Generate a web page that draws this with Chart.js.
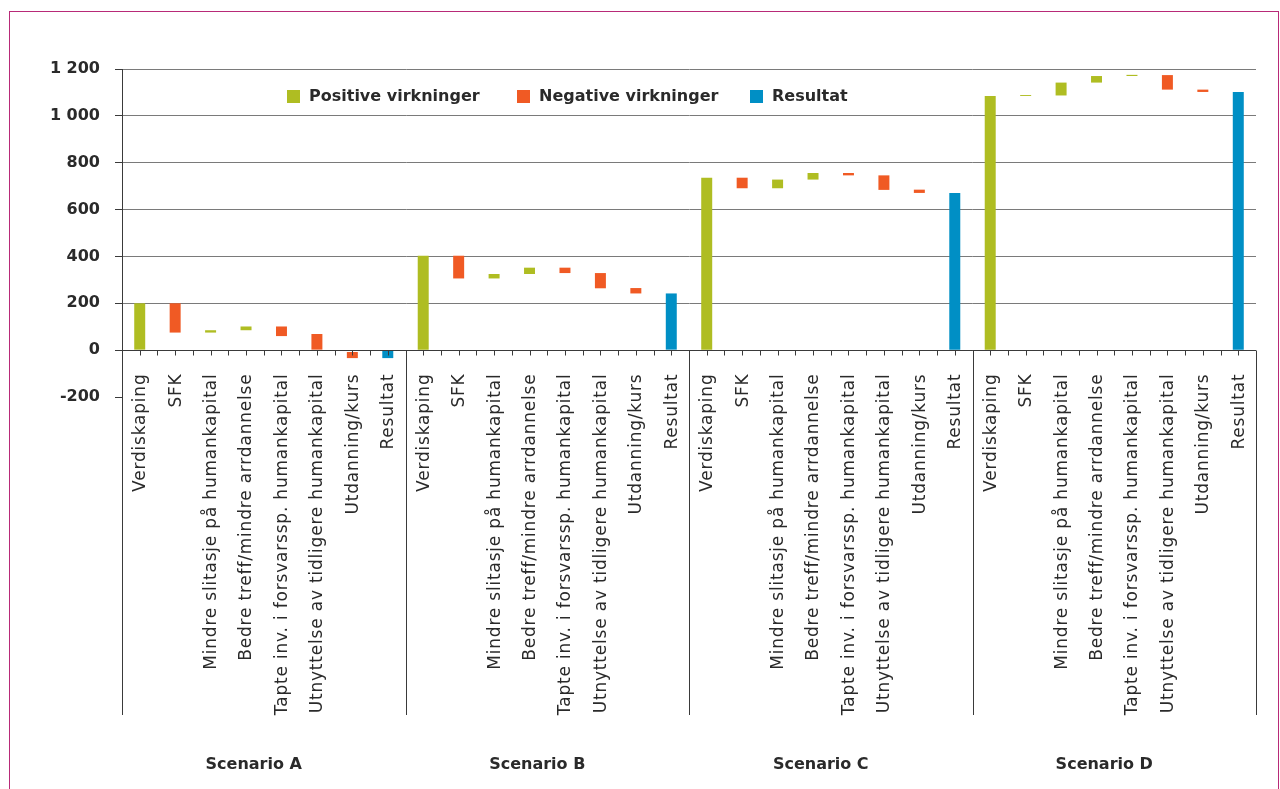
<!DOCTYPE html>
<html>
<head>
<meta charset="utf-8">
<script src="https://cdn.jsdelivr.net/npm/chart.js@4/dist/chart.umd.min.js"></script>
<style>
  html, body { margin: 0; padding: 0; background: #ffffff; }
  #wrap { position: relative; width: 1280px; height: 789px; overflow: hidden; }
  #frame { position: absolute; left: 9px; top: 11px; width: 1268px; height: 800px; z-index: 2;
           border-left: 1px solid #b82a78; border-top: 1px solid #b82a78; border-right: 1px solid #b82a78; }
  canvas { position: absolute; left: 0; top: 0; z-index: 1; }
</style>
</head>
<body>
<div id="wrap">
  <canvas id="chart" width="1280" height="789"></canvas>
  <div id="frame"></div>
</div>
<script>
// Scenario groups along the category axis
const scenarioNames = ['Scenario A', 'Scenario B', 'Scenario C', 'Scenario D'];

// Effects shown inside every scenario
const effectNames = [
  'Verdiskaping',
  'SFK',
  'Mindre slitasje på humankapital',
  'Bedre treff/mindre arrdannelse',
  'Tapte inv. i forsvarssp. humankapital',
  'Utnyttelse av tidligere humankapital',
  'Utdanning/kurs',
  'Resultat'
];

// [from, to] level of each waterfall step; last entry is the result bar
const scenarioA = [[0, 200], [200, 75], [75, 85], [85, 101], [101, 60], [69, 0], [-8, -34], [0, -34]];
const scenarioB = [[0, 403], [403, 306], [306, 325], [325, 352], [352, 329], [329, 264], [265, 242], [0, 242]];
const scenarioC = [[0, 736], [736, 691], [691, 728], [728, 756], [756, 746], [746, 684], [685, 671], [0, 671]];
const scenarioD = [[0, 1085], [1085, 1089], [1087, 1142], [1142, 1170], [1170, 1175], [1174, 1112], [1112, 1102], [0, 1102]];

// Value axis
const yTickValues = [-200, 0, 200, 400, 600, 800, 1000, 1200];
const yTickLabels = ['-200', '0', '200', '400', '600', '800', '1 000', '1 200'];

const legendLabels = ['Positive virkninger', 'Negative virkninger', 'Resultat'];
const colors = { positive: '#afbd22', negative: '#f05a24', result: '#008fc5' };

const allSteps = [scenarioA, scenarioB, scenarioC, scenarioD].flat();
const labels = scenarioNames.flatMap(() => effectNames);
const nEff = effectNames.length;

const positiveData = allSteps.map((s, i) => (i % nEff !== nEff - 1 && s[1] >= s[0]) ? s : null);
const negativeData = allSteps.map((s, i) => (i % nEff !== nEff - 1 && s[1] < s[0]) ? s : null);
const resultData = allSteps.map((s, i) => (i % nEff === nEff - 1) ? s : null);

const textColor = '#2a2a2a';
const lineColor = '#3a3a3a';

// Draws the two-level category axis, the frame lines below the plot and the inline legend
const categoryAxis = {
  id: 'categoryAxis',
  afterDatasetsDraw(chart) {
    const { ctx, scales: { x, y }, chartArea } = chart;
    const y0 = Math.round(y.getPixelForValue(0)) + 0.5;
    const step = x.getPixelForValue(1) - x.getPixelForValue(0);
    const half = step / 2;
    const bottomLine = 715;

    ctx.save();
    ctx.strokeStyle = lineColor;
    ctx.lineWidth = 1;

    // axis line at zero
    ctx.beginPath();
    ctx.moveTo(chartArea.left, y0);
    ctx.lineTo(chartArea.right, y0);
    ctx.stroke();

    // small ticks at every half category
    ctx.beginPath();
    for (let i = 0; i < labels.length; i++) {
      const c = x.getPixelForValue(i);
      for (const px of [c - half, c]) {
        const xx = Math.round(px) + 0.5;
        ctx.moveTo(xx, y0);
        ctx.lineTo(xx, y0 + 5);
      }
    }
    ctx.stroke();

    // left axis extension and scenario separators
    ctx.beginPath();
    const lx = Math.round(chartArea.left) + 0.5;
    ctx.moveTo(lx, chartArea.bottom);
    ctx.lineTo(lx, bottomLine);
    for (let g = 1; g <= scenarioNames.length; g++) {
      const bx = Math.round(x.getPixelForValue(g * nEff - 1) + half) + 0.5;
      ctx.moveTo(bx, y0);
      ctx.lineTo(bx, bottomLine);
    }
    ctx.stroke();

    // rotated effect labels
    ctx.fillStyle = textColor;
    ctx.font = '17px "DejaVu Sans"';
    ctx.letterSpacing = '0.8px';
    ctx.textAlign = 'right';
    ctx.textBaseline = 'middle';
    labels.forEach((lab, i) => {
      ctx.save();
      ctx.translate(x.getPixelForValue(i) + 1, y0 + 23);
      ctx.rotate(-Math.PI / 2);
      ctx.fillText(lab, 0, 0);
      ctx.restore();
    });
    ctx.letterSpacing = '0px';

    // scenario labels
    ctx.font = 'bold 16px "DejaVu Sans"';
    ctx.textAlign = 'center';
    scenarioNames.forEach((name, g) => {
      const cx = (x.getPixelForValue(g * nEff) + x.getPixelForValue(g * nEff + nEff - 1)) / 2;
      ctx.fillText(name, cx - 10, 765);
    });

    // legend inside the plot
    const legendX = [287, 517, 750];
    const legendColors = [colors.positive, colors.negative, colors.result];
    ctx.font = 'bold 16px "DejaVu Sans"';
    ctx.textAlign = 'left';
    legendLabels.forEach((t, k) => {
      ctx.fillStyle = legendColors[k];
      ctx.fillRect(legendX[k], 90, 13, 13);
      ctx.fillStyle = textColor;
      ctx.fillText(t, legendX[k] + 22, 97);
    });
    ctx.restore();
  }
};

new Chart(document.getElementById('chart'), {
  type: 'bar',
  data: {
    labels: labels,
    datasets: [
      { label: legendLabels[0], data: positiveData, backgroundColor: colors.positive },
      { label: legendLabels[1], data: negativeData, backgroundColor: colors.negative },
      { label: legendLabels[2], data: resultData, backgroundColor: colors.result }
    ]
  },
  options: {
    responsive: false,
    animation: false,
    devicePixelRatio: 1,
    layout: { padding: { top: 69, bottom: 392, left: 0, right: 24 } },
    datasets: { bar: { grouped: false, barPercentage: 0.31, categoryPercentage: 1, borderWidth: 0, skipNull: true } },
    plugins: { legend: { display: false }, tooltip: { enabled: false } },
    scales: {
      x: { display: false, offset: true },
      y: {
        min: -200,
        max: 1200,
        afterFit(scale) { scale.width = 122; },
        afterBuildTicks(scale) { scale.ticks = yTickValues.map(v => ({ value: v })); },
        border: { display: true, color: lineColor, width: 1 },
        grid: {
          color: (c) => c.tick && c.tick.value === -200 ? 'rgba(0,0,0,0)' : (c.tick && c.tick.value === 0 ? lineColor : '#7a7a7a'),
          tickColor: lineColor,
          tickLength: 7,
          lineWidth: 1
        },
        ticks: {
          padding: 15,
          color: textColor,
          font: { family: 'DejaVu Sans', size: 16, weight: 'bold' },
          callback: (v) => yTickLabels[yTickValues.indexOf(v)]
        }
      }
    }
  },
  plugins: [categoryAxis]
});
</script>
</body>
</html>
